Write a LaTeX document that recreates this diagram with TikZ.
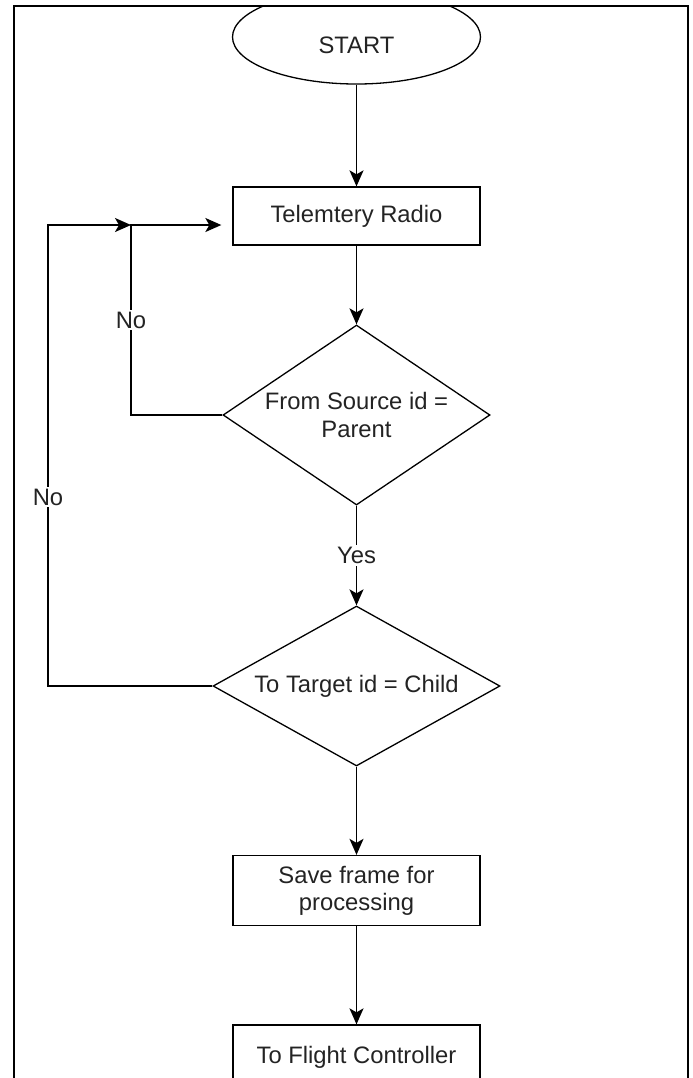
\documentclass[tikz,border=0pt]{standalone}
\usepackage{fontspec}
\setmainfont{Liberation Sans}
\usetikzlibrary{shapes.geometric,arrows.meta}
\definecolor{txt}{RGB}{35,35,35}
\begin{document}
\begin{tikzpicture}[x=0.5pt,y=-0.5pt,
  every node/.style={font=\fontsize{11.9}{13.6}\selectfont, text=txt},
  shp/.style={draw=black, line width=0.65pt, inner sep=0pt},
  box/.style={shp, rectangle, minimum width=123.5pt},
  dia/.style={shp, diamond},
  conn/.style={draw=black, line width=0.85pt},
  arr/.style={conn, -{Stealth[length=8pt,width=7pt,inset=2pt]}},
  lbl/.style={fill=white, inner sep=1pt},
  ]
\useasboundingbox (0,0) rectangle (692,1078);
\begin{scope}
\clip (14,6) rectangle (688,1078);
\node[shp, ellipse, minimum width=124pt, minimum height=47pt] (start) at (356.5,37) {};
\node (starttxt) at (356.5,45) {START};
\node[box, minimum height=29pt] (tele) at (356.5,216) {Telemtery Radio};
\node[dia, minimum width=133.5pt, minimum height=90pt] (d1) at (356.5,415) {};
\node[align=center] (d1t) at (d1.center) {From Source id =\\Parent};
\node[dia, minimum width=143.5pt, minimum height=80pt] (d2) at (356.5,686) {};
\node (d2t) at (d2.center) {To Target id = Child};
\node[box, minimum height=35pt, align=center] (save) at (356.5,890.5) {Save frame for\\processing};
\node[box, minimum height=32pt] (fc) at (356.5,1057) {To Flight Controller};

\coordinate (j1) at (131,225);
\coordinate (j2) at (48,225);

\draw[arr] (start) -- (tele);
\draw[arr] (tele) -- (d1.north);
\draw[arr] (d1.south) -- node[lbl] (yes) {Yes} (d2.north);
\draw[arr] (d2.south) -- (save.north);
\draw[arr] (save.south) -- (fc.north);
\draw[arr, shorten >=5.5pt] (d1.west) -| node[lbl, pos=0.75] (no1) {No} (j1) -- (tele.west |- j1);
\draw[arr] (d2.west) -| node[lbl, pos=0.705] (no2) {No} (j2) -- (j1);
\end{scope}
\draw[line width=1pt] (14,1078) -- (14,6) -- (688,6) -- (688,1078);
\end{tikzpicture}
\end{document}
